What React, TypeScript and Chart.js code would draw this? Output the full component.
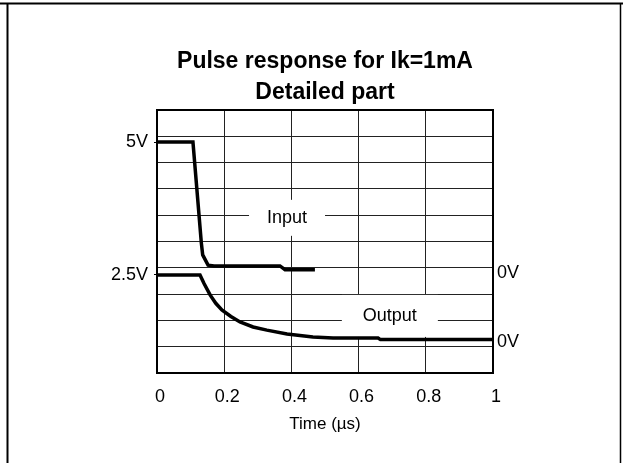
import React, { useEffect, useRef } from 'react';
import { Chart, registerables } from 'chart.js';

Chart.register(...registerables);

// ---- data ----
const inputTime = [0, 0.107, 0.132, 0.136, 0.152, 0.17, 0.366, 0.381, 0.47];
const inputLevel = [8.78, 8.78, 4.94, 4.49, 4.1, 4.07, 4.07, 3.93, 3.93];
const outputTime = [0, 0.128, 0.14, 0.158, 0.175, 0.193, 0.22, 0.247, 0.286, 0.327, 0.387, 0.464, 0.524, 0.658, 0.665, 1.0];
const outputLevel = [3.73, 3.73, 3.4, 2.97, 2.65, 2.4, 2.15, 1.94, 1.75, 1.63, 1.48, 1.37, 1.33, 1.33, 1.27, 1.27];
const xTicks = [0, 0.2, 0.4, 0.6, 0.8, 1];
const gridLevels = [0, 1, 2, 3, 4, 5, 6, 7, 8, 9, 10];
const leftTickValues = [3.73, 8.78];
const leftTickLabels = ['2.5V', '5V'];
const rightTickValues = [1.18, 3.8];
const rightTickLabels = ['0V', '0V'];
const titleLines = ['Pulse response for Ik=1mA', 'Detailed part'];
const xTitle = 'Time (µs)';
const curveNames = ['Input', 'Output'];
const curveNameTime = [0.387, 0.693];
const curveNameLevel = [5.9, 2.17];

const FONT = '"Liberation Sans", Arial, Helvetica, sans-serif';
Chart.defaults.font.family = FONT;

const labelBoxes = [
  { w: 76, h: 36 },
  { w: 96, h: 42 },
];

const decor = {
  id: 'decor',
  beforeDatasetsDraw(chart: any) {
    const { ctx, chartArea: a, scales } = chart;
    ctx.save();
    curveNames.forEach((t, i) => {
      const cx = scales.x.getPixelForValue(curveNameTime[i]);
      const cy = scales.y.getPixelForValue(curveNameLevel[i]);
      const b = labelBoxes[i];
      ctx.fillStyle = '#fff';
      ctx.fillRect(cx - b.w / 2, cy - b.h / 2, b.w, b.h);
      ctx.fillStyle = '#000';
      ctx.font = '18px ' + FONT;
      ctx.textAlign = 'center';
      ctx.textBaseline = 'middle';
      ctx.fillText(t, cx, cy);
    });
    ctx.strokeStyle = '#000';
    ctx.lineWidth = 2;
    ctx.strokeRect(a.left, a.top, a.right - a.left, a.bottom - a.top);
    ctx.restore();
  },
  afterDraw(chart: any) {
    const { ctx, width, height } = chart;
    ctx.save();
    ctx.strokeStyle = '#000';
    ctx.lineWidth = 2;
    ctx.beginPath();
    ctx.moveTo(0, 3.5);
    ctx.lineTo(width, 3.5);
    ctx.moveTo(7.5, 3.5);
    ctx.lineTo(7.5, height);
    ctx.stroke();
    ctx.lineWidth = 1.5;
    ctx.beginPath();
    ctx.moveTo(620.5, 3.5);
    ctx.lineTo(620.5, height);
    ctx.stroke();
    ctx.restore();
  },
};

const isLeftLabel = (v: number) => leftTickValues.indexOf(v) >= 0;

export default function App() {
  const ref = useRef<HTMLCanvasElement | null>(null);
  useEffect(() => {
    if (!ref.current) return;
    const chart = new Chart(ref.current, {
      type: 'line',
      data: {
        datasets: [
          {
            label: curveNames[0],
            data: inputTime.map((t, i) => ({ x: t, y: inputLevel[i] })),
            borderColor: '#000',
            borderWidth: 3.5,
            pointRadius: 0,
            fill: false,
            tension: 0,
            yAxisID: 'y',
          },
          {
            label: curveNames[1],
            data: outputTime.map((t, i) => ({ x: t, y: outputLevel[i] })),
            borderColor: '#000',
            borderWidth: 3.5,
            pointRadius: 0,
            fill: false,
            tension: 0,
            yAxisID: 'y',
          },
        ],
      },
      options: {
        animation: false,
        responsive: false,
        devicePixelRatio: 1,
        layout: { padding: 0 },
        plugins: {
          legend: { display: false },
          tooltip: { enabled: false },
          title: {
            display: true,
            text: titleLines,
            color: '#000',
            fullSize: false,
            font: { size: 23, weight: 'bold', family: FONT, lineHeight: 31 / 23 },
            padding: { top: 46.5, bottom: 1.5 },
          },
        },
        scales: {
          x: {
            type: 'linear',
            min: 0,
            max: 1,
            afterBuildTicks: (s: any) => {
              s.ticks = xTicks.map((v) => ({ value: v }));
            },
            afterFit: (s: any) => {
              s.height = 90;
            },
            border: { display: false },
            grid: { color: '#222', lineWidth: 1, drawTicks: false },
            ticks: {
              color: '#000',
              font: { size: 18 },
              padding: 13,
              labelOffset: 3,
              maxRotation: 0,
              autoSkip: false,
              callback: (v: any) => String(v),
            },
            title: {
              display: true,
              text: xTitle,
              color: '#000',
              font: { size: 17 },
              padding: { top: 0, bottom: 28 },
            },
          },
          y: {
            type: 'linear',
            position: 'left',
            min: 0,
            max: 10,
            afterBuildTicks: (s: any) => {
              const all = gridLevels.concat(leftTickValues).sort((a, b) => a - b);
              s.ticks = all.map((v) => ({ value: v }));
            },
            afterFit: (s: any) => {
              s.width = 157;
            },
            border: { display: false },
            grid: {
              lineWidth: 1,
              tickLength: 3,
              color: (c: any) => (c.tick && isLeftLabel(c.tick.value) ? 'rgba(0,0,0,0)' : '#222'),
              tickColor: (c: any) => (c.tick && isLeftLabel(c.tick.value) ? '#000' : 'rgba(0,0,0,0)'),
            },
            ticks: {
              color: '#000',
              font: { size: 18 },
              padding: 6,
              autoSkip: false,
              callback: (v: any) => {
                const i = leftTickValues.indexOf(v);
                return i >= 0 ? leftTickLabels[i] : '';
              },
            },
          },
          y2: {
            type: 'linear',
            position: 'right',
            min: 0,
            max: 10,
            afterBuildTicks: (s: any) => {
              s.ticks = rightTickValues.map((v) => ({ value: v }));
            },
            afterFit: (s: any) => {
              s.width = 130;
            },
            border: { display: false },
            grid: { drawOnChartArea: false, drawTicks: false },
            ticks: {
              color: '#000',
              font: { size: 18 },
              padding: 4,
              autoSkip: false,
              callback: (v: any) => {
                const i = rightTickValues.indexOf(v);
                return i >= 0 ? rightTickLabels[i] : '';
              },
            },
          },
        },
      } as any,
      plugins: [decor],
    });
    return () => chart.destroy();
  }, []);

  return (
    <div style={{ position: 'absolute', left: 0, top: 0, width: 623, height: 463, background: '#fff' }}>
      <canvas ref={ref} width={623} height={463} style={{ width: 623, height: 463, display: 'block' }} />
    </div>
  );
}
